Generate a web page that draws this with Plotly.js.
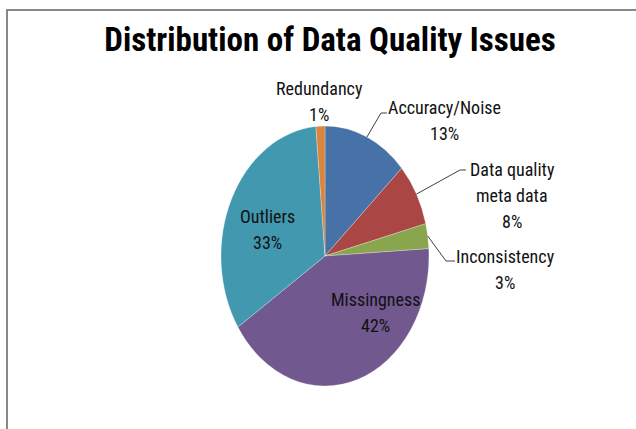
<!DOCTYPE html>
<html>
<head>
<meta charset="utf-8">
<script src="https://cdn.plot.ly/plotly-3.0.1.min.js"></script>
<style>
html,body{margin:0;padding:0;background:#fff;}
#chart{width:636px;height:429px;}
</style>
</head>
<body>
<div id="chart"></div>
<script>
// ---- data ----
var categories = ["Accuracy/Noise", "Data quality meta data", "Inconsistency", "Missingness", "Outliers", "Redundancy"];
var labelLines = [["Accuracy/Noise"], ["Data quality", "meta data"], ["Inconsistency"], ["Missingness"], ["Outliers"], ["Redundancy"]];
var shares = [13.2, 7.8, 3.1, 41.7, 32.8, 1.4];
var colors = ["#4672A8", "#AA4643", "#89A54E", "#71588F", "#4198AF", "#DB843D"];
var chartTitle = "Distribution of Data Quality Issues";

// ---- layout constants (pixels) ----
var W = 636, H = 429;
var CX = 325, CY = 256, RY = 130, RX = 104;
var FONT = '"Liberation Sans Narrow", "Roboto Condensed", "Liberation Sans", Arial, sans-serif';
var FS = 18, LINE = 26;

// label placement: center x, first baseline y, leader elbow (or null)
var labelPos = [
  {x: 444, y: 113, elbow: [381, 113], end: [387, 113]},
  {x: 512, y: 175, elbow: [460, 170], end: [466, 170]},
  {x: 505, y: 262, elbow: [446, 261], end: [455, 261]},
  {x: 375, y: 305, elbow: null},
  {x: 267, y: 222, elbow: null},
  {x: 319, y: 94, elbow: null}
];

function px(x){ return x / W; }
function py(y){ return 1 - y / H; }

var total = shares.reduce(function(a,b){return a+b;}, 0);

var annotations = [];
var shapes = [];

// frame
shapes.push({type:'line', xref:'paper', yref:'paper', x0:px(7), x1:1, y0:py(10), y1:py(10), line:{color:'#888888', width:2}});
shapes.push({type:'line', xref:'paper', yref:'paper', x0:px(7), x1:px(7), y0:py(9), y1:0, line:{color:'#888888', width:2}});

function addLine(text, x, baseline){
  annotations.push({
    xref:'paper', yref:'paper', x:px(x), y:py(baseline - 0.33*FS),
    xanchor:'center', yanchor:'middle', showarrow:false,
    text:text, font:{family:FONT, size:FS, color:'#111111'}
  });
}

var cum = 0;
for (var i = 0; i < shares.length; i++){
  var mid = (cum + shares[i]/2) / total * 2*Math.PI;
  cum += shares[i];
  var pct = Math.round(shares[i]/total*100) + '%';
  var lp = labelPos[i];
  var lines = labelLines[i].concat([pct]);
  for (var k = 0; k < lines.length; k++){
    addLine(lines[k], lp.x, lp.y + k*LINE);
  }
  if (lp.elbow){
    var sx = CX + RX*Math.sin(mid), sy = CY - RY*Math.cos(mid);
    var path = 'M' + px(sx) + ',' + py(sy) + ' L' + px(lp.elbow[0]) + ',' + py(lp.elbow[1]) + ' L' + px(lp.end[0]) + ',' + py(lp.end[1]);
    shapes.push({type:'path', xref:'paper', yref:'paper', path:path, line:{color:'#404040', width:1}});
  }
}

var trace = {
  type:'pie',
  labels:categories,
  values:shares,
  sort:false,
  direction:'clockwise',
  rotation:0,
  textinfo:'none',
  hoverinfo:'label+percent',
  marker:{colors:colors, line:{color:'rgba(255,255,255,0.5)', width:0.6}},
  domain:{x:[px(CX-140), px(CX+140)], y:[py(CY+RY), py(CY-RY)]},
  showlegend:false
};

var layout = {
  width:W, height:H,
  margin:{l:0, r:0, t:0, b:0},
  paper_bgcolor:'#ffffff',
  showlegend:false,
  title:{text:chartTitle, x:px(330), xanchor:'center', xref:'paper', y:py(39), yanchor:'middle', yref:'container',
         font:{family:FONT, size:33, weight:'bold', color:'#000000'}},
  annotations:annotations,
  shapes:shapes
};

Plotly.newPlot('chart', [trace], layout, {displayModeBar:false, staticPlot:true}).then(function(gd){
  var sx = RX / RY;
  var groups = gd.querySelectorAll('.pielayer .trace');
  groups.forEach(function(g){
    g.setAttribute('transform', 'translate(' + CX + ',' + CY + ') scale(' + sx + ',1) translate(' + (-CX) + ',' + (-CY) + ')');
  });
});
</script>
</body>
</html>
